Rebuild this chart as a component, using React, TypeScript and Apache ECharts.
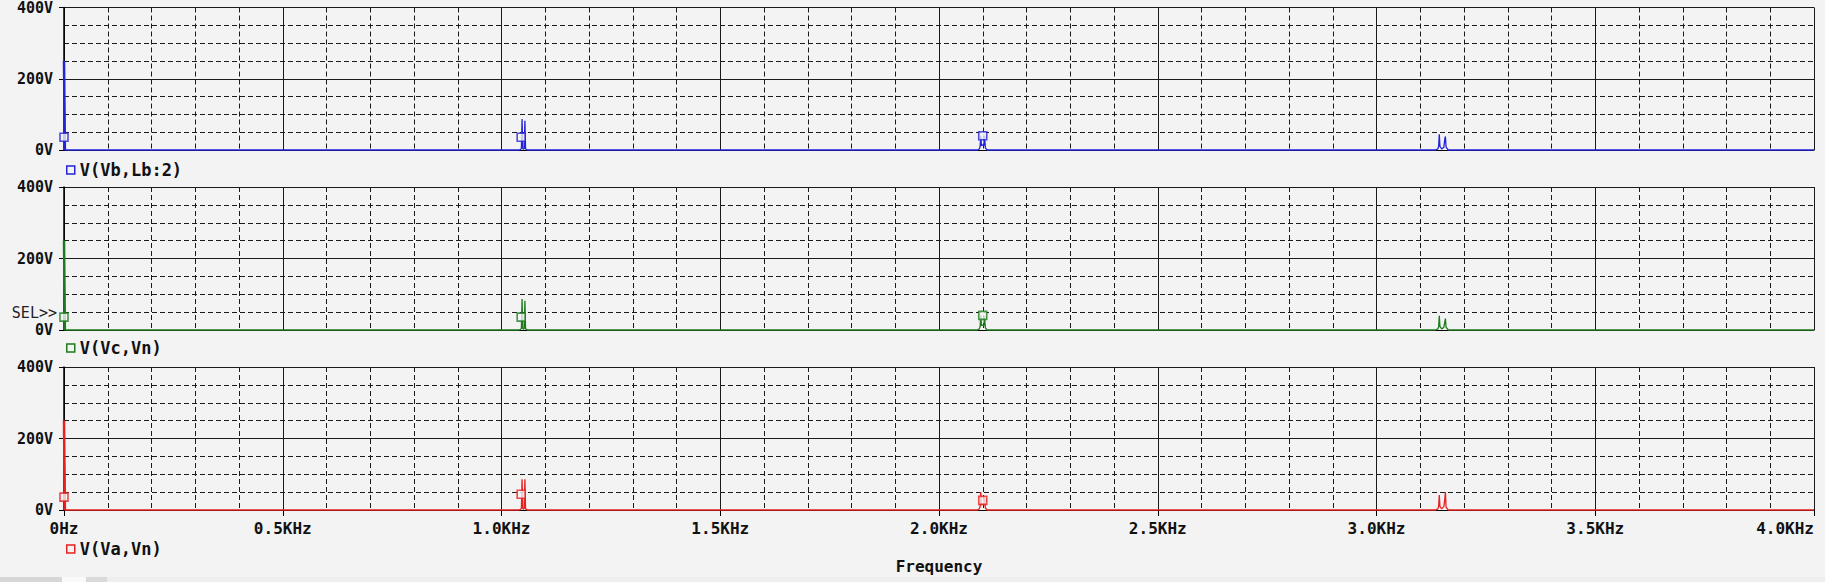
import { useEffect, useRef } from "react";
import * as echarts from "echarts";

// ---- data ----
const freqHz = [
  0, 2,
  1040, 1044, 1045.5, 1047, 1048.5, 1050.5, 1052, 1053.5, 1055, 1059,
  2088, 2092, 2094, 2095.5, 2097, 2100, 2102.5, 2104, 2106, 2110,
  3135, 3140, 3142, 3143.5, 3145, 3149, 3154, 3156, 3157.5, 3159, 3164,
  4000,
];
const vbValues = [
  250, 0,
  0, 2, 5, 87, 4, 2, 5, 82, 3, 0,
  0, 3, 10, 40, 12, 15, 12, 40, 6, 0,
  0, 3, 10, 44, 10, 3, 8, 30, 38, 8, 0,
  0,
];
const vcValues = [
  250, 0,
  0, 2, 5, 87, 4, 2, 5, 82, 3, 0,
  0, 3, 10, 42, 12, 14, 12, 38, 6, 0,
  0, 3, 8, 40, 10, 3, 8, 22, 32, 8, 0,
  0,
];
const vaValues = [
  250, 0,
  0, 2, 5, 86, 4, 2, 5, 86, 3, 0,
  0, 3, 10, 50, 14, 18, 14, 35, 6, 0,
  0, 3, 10, 42, 10, 3, 10, 30, 50, 8, 0,
  0,
];
const markerHz = [0, 1045, 2100];
const vbMarkers = [36, 36, 40];
const vcMarkers = [36, 36, 41];
const vaMarkers = [36, 44, 27];

const xTickLabels = ["0Hz", "0.5KHz", "1.0KHz", "1.5KHz", "2.0KHz", "2.5KHz", "3.0KHz", "3.5KHz", "4.0KHz"];
const yTickLabels = ["0V", "200V", "400V"];
const traceNames = ["V(Vb,Lb:2)", "V(Vc,Vn)", "V(Va,Vn)"];

// ---- styles / layout ----
const traceColors = ["#2424d6", "#1f7a1f", "#e52222"];
const panelTops = [7, 187, 367];
const panelHeight = 143;
const legendCenters = [170, 348, 549];
const BG = "#f3f3f3";
const FONT = "'DejaVu Sans Mono', monospace";

export default function App() {
  const ref = useRef<HTMLDivElement>(null);

  useEffect(() => {
    if (!ref.current) return;
    const chart = echarts.init(ref.current, undefined, { renderer: "svg" });

    const values = [vbValues, vcValues, vaValues];
    const marks = [vbMarkers, vcMarkers, vaMarkers];

    const grid = panelTops.map((t) => ({ left: 64, right: 11, top: t, height: panelHeight }));

    const xAxis = panelTops.map((_, i) => ({
      gridIndex: i,
      type: "value",
      min: 0,
      max: 4000,
      interval: 500,
      axisLine: { show: true, onZero: false, lineStyle: { color: "#000", width: 1 } },
      axisTick: { show: i === 2, length: 6, lineStyle: { color: "#000", width: 1 } },
      axisLabel: {
        show: i === 2,
        formatter: (v: number) => xTickLabels[Math.round(v / 500)],
        fontFamily: FONT,
        fontWeight: "bold",
        fontSize: 16,
        color: "#111",
        margin: 10,
        alignMaxLabel: "right",
      },
      splitLine: { show: true, lineStyle: { color: "#1a1a1a", width: 1 } },
      minorTick: { show: false, splitNumber: 5 },
      minorSplitLine: { show: true, lineStyle: { color: "#1a1a1a", width: 1, type: [5, 3] } },
      name: i === 2 ? "Frequency" : "",
      nameLocation: "middle",
      nameGap: 48,
      nameTextStyle: { fontFamily: FONT, fontWeight: "bold", fontSize: 16, color: "#111" },
    }));

    const yAxis = panelTops.map((_, i) => ({
      gridIndex: i,
      type: "value",
      min: 0,
      max: 400,
      interval: 200,
      axisLine: { show: true, onZero: false, lineStyle: { color: "#000", width: 1.5 } },
      axisTick: { show: true, length: 5, lineStyle: { color: "#000", width: 1 } },
      axisLabel: {
        formatter: (v: number) => yTickLabels[Math.round(v / 200)],
        fontFamily: FONT,
        fontWeight: "bold",
        fontSize: 15,
        color: "#111",
        margin: 11,
      },
      splitLine: { show: true, lineStyle: { color: "#1a1a1a", width: 1 } },
      minorTick: { show: false, splitNumber: 4 },
      minorSplitLine: { show: true, lineStyle: { color: "#1a1a1a", width: 1, type: [5, 3] } },
    }));

    const series: any[] = [];
    traceNames.forEach((name, i) => {
      const pts = freqHz.map((f, k) => [f, values[i][k]]);
      series.push({
        type: "line",
        name,
        xAxisIndex: i,
        yAxisIndex: i,
        data: pts,
        showSymbol: false,
        symbol: "none",
        clip: false,
        lineStyle: { color: traceColors[i], width: 1.3 },
        itemStyle: { color: traceColors[i] },
        z: 3,
        silent: true,
      });
      // DC component drawn over the y axis line (same data, first segment)
      series.push({
        type: "line",
        xAxisIndex: i,
        yAxisIndex: i,
        data: pts.slice(0, 2),
        showSymbol: false,
        symbol: "none",
        clip: false,
        lineStyle: { color: traceColors[i], width: 2.5 },
        z: 3,
        silent: true,
      });
      series.push({
        type: "scatter",
        xAxisIndex: i,
        yAxisIndex: i,
        data: markerHz.map((f, k) => [f, marks[i][k]]),
        symbol: "rect",
        symbolSize: 8,
        itemStyle: { color: BG, borderColor: traceColors[i], borderWidth: 1.6 },
        z: 4,
        silent: true,
      });
    });

    const legend = traceNames.map((n, i) => ({
      data: [n],
      left: 66,
      top: legendCenters[i] - 9,
      padding: 0,
      icon: "rect",
      itemWidth: 8,
      itemHeight: 8,
      selectedMode: false,
      itemStyle: { color: BG, borderColor: traceColors[i], borderWidth: 1.5 },
      textStyle: { fontFamily: FONT, fontSize: 17, fontWeight: "bold", color: "#111", lineHeight: 18 },
    }));

    chart.setOption({
      animation: false,
      backgroundColor: BG,
      grid,
      xAxis,
      yAxis,
      series,
      legend,
      graphic: [
        {
          type: "text",
          x: 57,
          y: 313,
          style: {
            text: "SEL>>",
            fontFamily: FONT,
            fontSize: 15,
            fill: "#222",
            align: "right",
            verticalAlign: "middle",
          },
        },
        { type: "rect", shape: { x: 0, y: 577, width: 62, height: 5 }, style: { fill: "#d6d6d6" } },
        { type: "rect", shape: { x: 62, y: 577, width: 24, height: 5 }, style: { fill: "#fafafa" } },
        { type: "rect", shape: { x: 86, y: 577, width: 21, height: 5 }, style: { fill: "#dadada" } },
        { type: "rect", shape: { x: 107, y: 577, width: 1718, height: 5 }, style: { fill: "#eeeeee" } },
      ],
    });

    return () => chart.dispose();
  }, []);

  return (
    <div
      ref={ref}
      style={{ position: "fixed", left: 0, top: 0, width: 1825, height: 582 }}
    />
  );
}
